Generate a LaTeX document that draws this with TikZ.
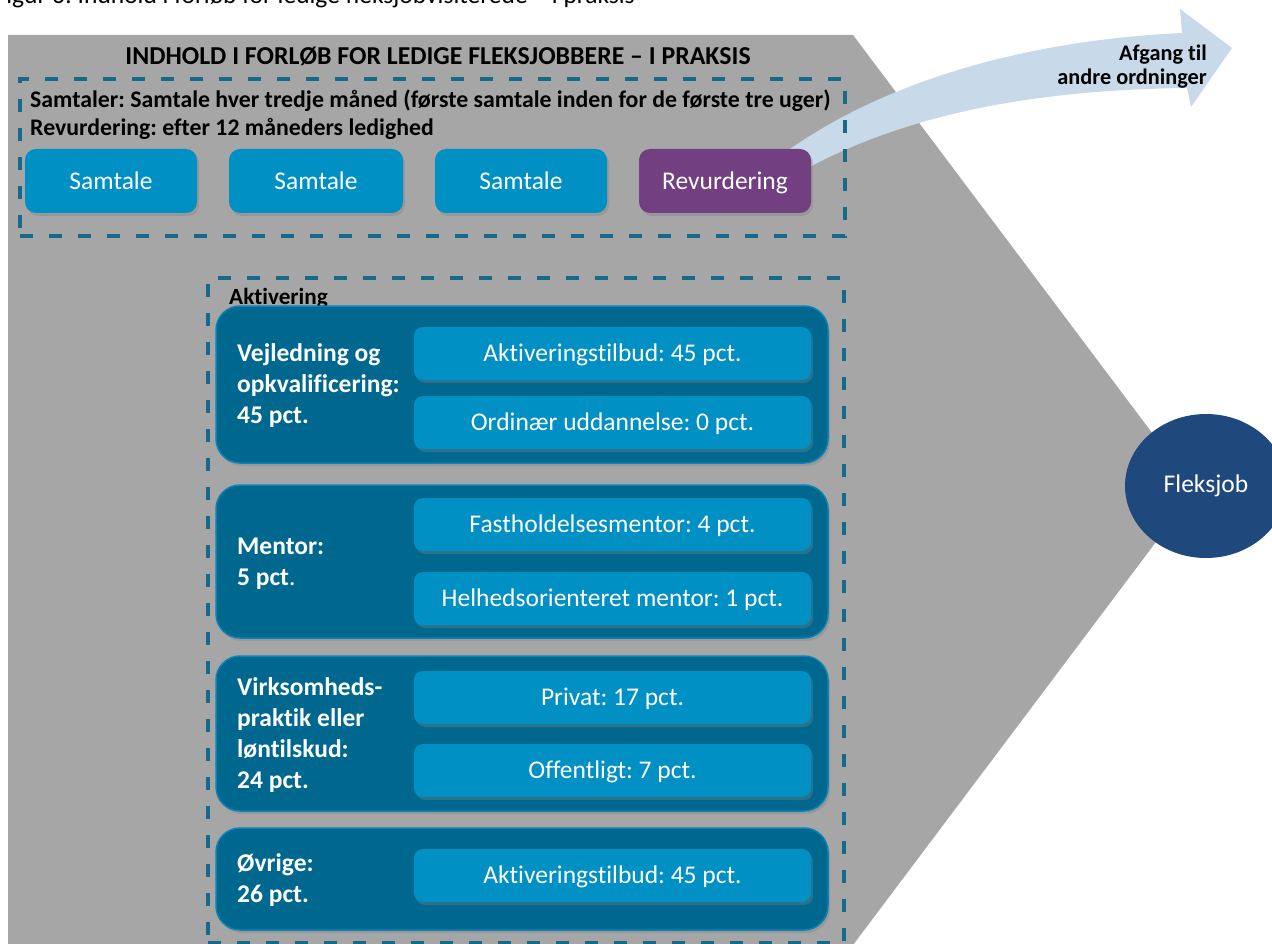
\documentclass[tikz,border=0pt]{standalone}
\usepackage{fontspec}
\setmainfont{Carlito}[Ligatures=NoCommon]
\usetikzlibrary{shadows,shapes.geometric}
\definecolor{grayfill}{HTML}{A6A6A6}
\definecolor{dashblue}{HTML}{17698A}
\definecolor{lightblue}{HTML}{0090C4}
\definecolor{darkblue}{HTML}{00688F}
\definecolor{darkedge}{HTML}{0B82B8}
\definecolor{purplebox}{HTML}{724080}
\definecolor{circblue}{HTML}{1F497D}
\definecolor{arrowblue}{HTML}{C8DAE9}
\frenchspacing
\begin{document}
\begin{tikzpicture}[x=1pt,y=-1pt,
  regfont/.style={font=\fontsize{25.5}{30}\selectfont},
  shadowed/.style={drop shadow={shadow xshift=2pt,shadow yshift=-3pt,opacity=0.35}},
  sbox/.style={regfont, text=white, fill=lightblue, rounded corners=11pt, inner sep=0pt, text height=20pt, text depth=3.6pt, shadowed},
  rbox/.style={sbox, fill=purplebox},
  subbox/.style={sbox, rounded corners=9pt, minimum width=397, minimum height=53},
  dbox/.style={fill=darkblue, draw=darkedge, line width=1.5pt, rounded corners=24pt, minimum width=612, inner sep=0pt, shadowed},
  lbl/.style={font=\bfseries\fontsize{25.5}{31}\selectfont, text=white, align=left, inner sep=0pt},
  dashbox/.style={draw=dashblue, line width=4pt, dash pattern=on 13pt off 16pt, inner sep=0pt},
  hdr/.style={font=\bfseries\fontsize{23.8}{28}\selectfont, text=black, inner sep=0pt},
]
\useasboundingbox (0,0) rectangle (1272,944);
\begin{scope}
\clip (0,0) rectangle (1272,944);
% caption (cut off at the top, as in the reference)
\node[anchor=base east, font=\fontsize{25.5}{29}\selectfont, inner sep=0pt] (caption) at (635,4) {Figur 6: Indhold i forløb for ledige fleksjobvisiterede – i praksis};
% grey chevron
\fill[grayfill] (8,35) -- (853,35) -- (1195,490) -- (853,945) -- (8,945) -- cycle;
% curved arrow
\fill[arrowblue] (795,175) .. controls (900,115) and (1030,90) .. (1187,88) -- (1191,107) -- (1232,48) -- (1180,9) -- (1182,33) .. controls (1030,40) and (880,80) .. (775,160) -- cycle;
\node[anchor=east, font=\bfseries\fontsize{22.3}{24}\selectfont, align=right, inner sep=0pt] (afgang) at (1207,67) {Afgang til\\andre ordninger};
% title
\node[font=\bfseries\fontsize{25.8}{30}\selectfont, inner sep=0pt] (title) at (438,56) {INDHOLD I FORLØB FOR LEDIGE FLEKSJOBBERE – I PRAKSIS};
% top group
\node[dashbox, anchor=north west, minimum width=825, minimum height=157] (topgroup) at (18,77) {};
\node[hdr, anchor=west] (samtaler) at (30,101) {Samtaler: Samtale hver tredje måned (første samtale inden for de første tre uger)};
\node[hdr, anchor=west] (revtext) at (30,129) {Revurdering: efter 12 måneders ledighed};
\node[sbox, minimum width=172, minimum height=64] (s1) at (111,181) {Samtale};
\node[sbox, minimum width=174, minimum height=64] (s2) at (316,181) {Samtale};
\node[sbox, minimum width=172, minimum height=64] (s3) at (521,181) {Samtale};
\node[rbox, minimum width=172, minimum height=64] (rev) at (725,181) {Revurdering};
% activation group
\node[dashbox, anchor=north west, minimum width=636, minimum height=665] (aktgroup) at (206,276) {};
\node[font=\bfseries\fontsize{23.2}{28}\selectfont, anchor=west, inner sep=0pt] (akt) at (229,298) {Aktivering};
% box A
\node[dbox, minimum height=157] (bA) at (522,384.5) {};
\node[lbl, anchor=west] (lA) at (237,386) {Vejledning og\\opkvalificering:\\45 pct.};
\node[subbox] (a1) at (612.5,353.5) {Aktiveringstilbud: 45 pct.};
\node[subbox] (a2) at (612.5,422.5) {Ordinær uddannelse: 0 pct.};
% box B
\node[dbox, minimum height=153] (bB) at (522,561.5) {};
\node[lbl, anchor=west] (lB) at (237,564) {Mentor:\\5 pct\mdseries.};
\node[subbox] (b1) at (612.5,524.5) {Fastholdelsesmentor: 4 pct.};
\node[subbox] (b2) at (612.5,598.5) {Helhedsorienteret mentor: 1 pct.};
% box C
\node[dbox, minimum height=155] (bC) at (522,733.5) {};
\node[lbl, anchor=west] (lC) at (237,735.5) {Virksomheds-\\praktik eller\\løntilskud:\\24 pct.};
\node[subbox] (c1) at (612.5,697.5) {Privat: 17 pct.};
\node[subbox] (c2) at (612.5,770.5) {Offentligt: 7 pct.};
% box D
\node[dbox, minimum height=102] (bD) at (522,879) {};
\node[lbl, anchor=west] (lD) at (237,880) {Øvrige:\\26 pct.};
\node[subbox] (d1) at (612.5,875.5) {Aktiveringstilbud: 45 pct.};
% Fleksjob circle
\node[ellipse, fill=circblue, text=white, regfont, minimum width=162, minimum height=144, inner sep=0pt] (fleks) at (1206,486) {Fleksjob};
\end{scope}
\end{tikzpicture}
\end{document}
